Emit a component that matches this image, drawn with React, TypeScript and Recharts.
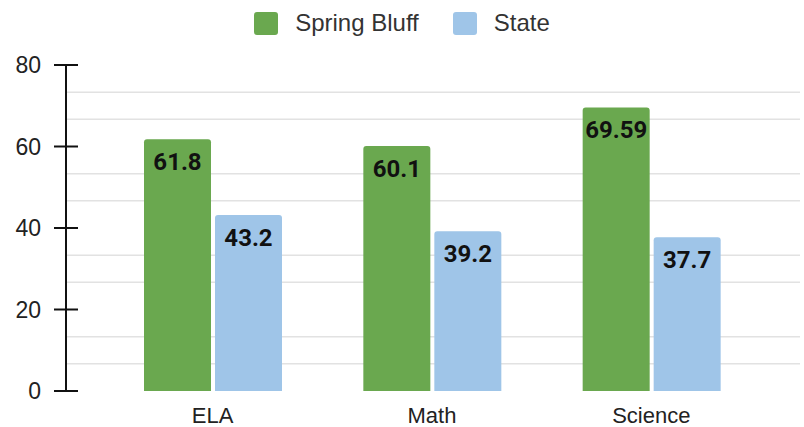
import { Bar, BarChart, CartesianGrid, LabelList, Legend, XAxis, YAxis } from "recharts";

const subjects = ["ELA", "Math", "Science"];
const springBluff = [61.8, 60.1, 69.59];
const state = [43.2, 39.2, 37.7];
const yTicks = [0, 20, 40, 60, 80];
const gridValues = [6.67, 13.33, 26.67, 33.33, 46.67, 53.33, 66.67, 73.33];

const data = subjects.map((name, i) => ({
    name,
    springBluff: springBluff[i],
    state: state[i],
}));

const FONT = "'Liberation Sans', Arial, sans-serif";
const LABEL_FONT = "Roboto, Arial, sans-serif";

const YTick = (props: any) => {
    const { x, y, payload } = props;
    const axisX = x + 18;
    return (
        <g>
            <line x1={axisX - 12} x2={axisX + 12} y1={y} y2={y} stroke="#111" strokeWidth={2} />
            <text x={x - 7} y={y} dy="0.36em" textAnchor="end" fontSize={23} fill="#222" fontFamily={FONT}>
                {payload.value}
            </text>
        </g>
    );
};

const renderLegend = (props: any) => {
    const { payload } = props;
    return (
        <div style={{ display: "flex", justifyContent: "center", alignItems: "center", width: 804, fontFamily: FONT }}>
            {payload.map((entry: any, i: number) => (
                <div key={entry.value} style={{ display: "flex", alignItems: "center", marginLeft: i === 0 ? 0 : 34 }}>
                    <div style={{ width: 24, height: 23, borderRadius: 3, background: entry.color }} />
                    <span style={{ marginLeft: 17, fontSize: 24, color: "#333", lineHeight: "28px" }}>{entry.value}</span>
                </div>
            ))}
        </div>
    );
};

export default function App() {
    return (
        <div style={{ position: "absolute", left: 0, top: 0, background: "#fff" }}>
            <BarChart
                width={804}
                height={427}
                data={data}
                margin={{ top: 65, right: 4, bottom: 0, left: 0 }}
                barCategoryGap={41}
                barGap={4}
            >
                <CartesianGrid vertical={false} horizontalValues={gridValues} stroke="#e2e2e2" strokeWidth={1.5} />
                <Legend
                    verticalAlign="middle"
                    align="center"
                    layout="horizontal"
                    content={renderLegend}
                    wrapperStyle={{ top: 9, left: 0, width: 804 }}
                />
                <XAxis
                    dataKey="name"
                    height={36}
                    axisLine={false}
                    tickLine={false}
                    tickSize={0}
                    tickMargin={16}
                    padding={{ left: 37, right: 39 }}
                    tick={{ fontSize: 22, fill: "#222", fontFamily: FONT }}
                />
                <YAxis
                    width={66}
                    domain={[0, 80]}
                    ticks={yTicks}
                    tickLine={false}
                    tickSize={12}
                    tickMargin={6}
                    axisLine={{ stroke: "#111", strokeWidth: 2 }}
                    tick={<YTick />}
                />
                <Bar dataKey="springBluff" name="Spring Bluff" fill="#6aa84f" radius={[3, 3, 0, 0]} isAnimationActive={false}>
                    <LabelList dataKey="springBluff" position="insideTop" offset={14} fill="#111" fontSize={24} fontWeight="bold" fontFamily={LABEL_FONT} />
                </Bar>
                <Bar dataKey="state" name="State" fill="#9fc5e8" radius={[3, 3, 0, 0]} isAnimationActive={false}>
                    <LabelList dataKey="state" position="insideTop" offset={14} fill="#111" fontSize={24} fontWeight="bold" fontFamily={LABEL_FONT} />
                </Bar>
            </BarChart>
        </div>
    );
}
